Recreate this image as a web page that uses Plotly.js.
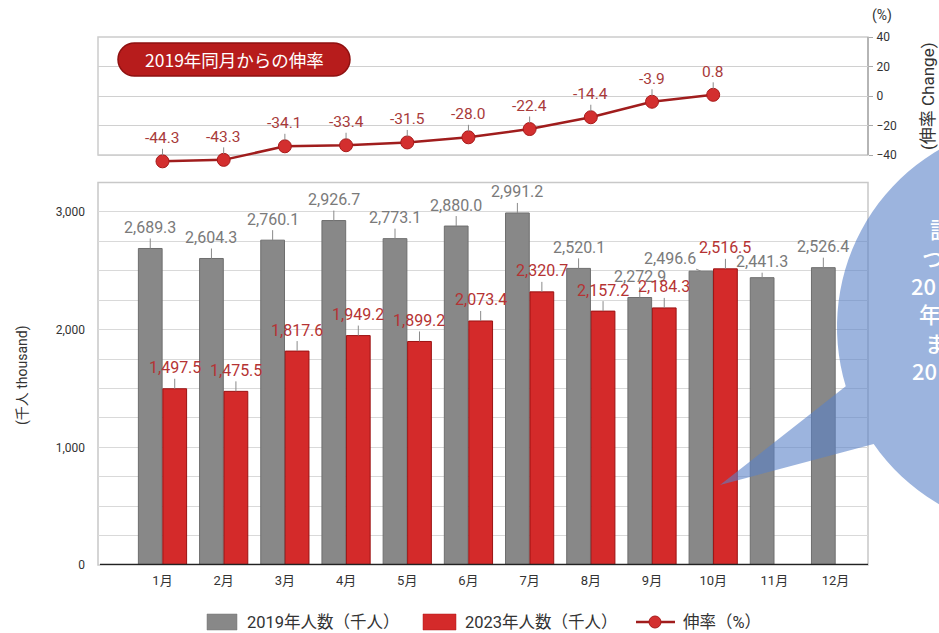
<!DOCTYPE html>
<html>
<head>
<meta charset="utf-8">
<script src="https://cdn.plot.ly/plotly-3.0.1.min.js"></script>
<style>html,body{margin:0;padding:0;background:#fff;}#chart{width:939px;height:633px;}</style>
</head>
<body>
<div id="chart"></div>
<script>
// ---- data ----
const months = ['1月','2月','3月','4月','5月','6月','7月','8月','9月','10月','11月','12月'];
const visitors2019 = [2689.3, 2604.3, 2760.1, 2926.7, 2773.1, 2880.0, 2991.2, 2520.1, 2272.9, 2496.6, 2441.3, 2526.4];
const visitors2023 = [1497.5, 1475.5, 1817.6, 1949.2, 1899.2, 2073.4, 2320.7, 2157.2, 2184.3, 2516.5, null, null];
const changeRate = [-44.3, -43.3, -34.1, -33.4, -31.5, -28.0, -22.4, -14.4, -3.9, 0.8, null, null];
const rateTicks = [-40, -20, 0, 20, 40];
const seriesNames = ['2019年人数（千人）', '2023年人数（千人）', '伸率（%）'];
const badgeText = '2019年同月からの伸率';
const yTitle = '(千人 thousand)';
const y2Title = '(伸率 Change)';
const y2Unit = '(%)';
const bubbleLines = ['訪', 'つ', '20', '年', 'ま', '20'];

// ---- helpers (pixel -> paper) ----
const L = 98, R = 868, T = 37, B = 565;
const px = x => (x - L) / (R - L);
const py = y => (B - y) / (B - T);
const P = (x, y) => px(x).toFixed(5) + ',' + py(y).toFixed(5);
const fmt = v => v.toLocaleString('en-US', {minimumFractionDigits: 1, maximumFractionDigits: 1});
const FONT = 'Roboto, "Noto Sans CJK JP", sans-serif';
const JFONT = '"Noto Sans CJK JP", Roboto, sans-serif';
const GRAY = '#888888', RED = '#d42a2a', LINE = '#a01d1d';

const traces = [
  {type: 'bar', name: seriesNames[0], x: months, y: visitors2019, xaxis: 'x', yaxis: 'y',
   marker: {color: GRAY, line: {color: '#6e6e6e', width: 1}}, showlegend: false, hoverinfo: 'skip'},
  {type: 'bar', name: seriesNames[1], x: months, y: visitors2023, xaxis: 'x', yaxis: 'y',
   marker: {color: RED, line: {color: '#9c1212', width: 1}}, showlegend: false, hoverinfo: 'skip'},
  {type: 'scatter', mode: 'lines+markers', name: seriesNames[2], x: months, y: changeRate, xaxis: 'x2', yaxis: 'y2',
   line: {color: LINE, width: 2.5}, marker: {size: 13, color: '#d32f2f', line: {color: '#a81a1a', width: 1}},
   cliponaxis: false, showlegend: false, hoverinfo: 'skip'}
];

const annotations = [];
const special = {9: [-31, -13], 10: [0, -16]};
visitors2019.forEach((v, i) => {
  const o = special[i] || [0, -21];
  annotations.push({x: i - 0.2, y: v, xref: 'x', yref: 'y', text: fmt(v), showarrow: true, arrowhead: 0,
    arrowwidth: 1, arrowcolor: '#8a8a8a', ax: o[0], ay: o[1], standoff: 0,
    font: {family: FONT, size: 16, color: '#7a7a7a'}});
});
visitors2023.forEach((v, i) => {
  if (v === null) return;
  annotations.push({x: i + 0.2, y: v, xref: 'x', yref: 'y', text: fmt(v), showarrow: true, arrowhead: 0,
    arrowwidth: 1, arrowcolor: '#8a8a8a', ax: 0, ay: -21, standoff: 0,
    font: {family: FONT, size: 16, color: '#b53333'}});
});
changeRate.forEach((v, i) => {
  if (v === null) return;
  annotations.push({x: i, y: v, xref: 'x2', yref: 'y2', text: v.toFixed(1), showarrow: true, arrowhead: 0,
    arrowwidth: 1, arrowcolor: '#8a8a8a', ax: 0, ay: -23, standoff: 6,
    font: {family: FONT, size: 15.5, color: '#a83a3a'}});
});
const paperText = (x, y, text, font, extra) => Object.assign({x: px(x), y: py(y), xref: 'paper', yref: 'paper',
  xanchor: 'center', yanchor: 'middle', text: text, showarrow: false, font: font}, extra || {});
// titles
annotations.push(paperText(22, 375, yTitle, {family: FONT, size: 14, color: '#333'}, {textangle: -90}));
annotations.push(paperText(928, 96, y2Title, {family: FONT, size: 17, color: '#333'}, {textangle: -90}));
annotations.push(paperText(882, 16, y2Unit, {family: FONT, size: 14, color: '#333'}));
annotations.push(paperText(234, 59.5, badgeText, {family: JFONT, size: 17.5, color: '#ffffff'}));
// legend texts
[[245, 0], [463, 1], [681, 2]].forEach(([x, k]) => {
  annotations.push(paperText(x, 622, seriesNames[k], {family: FONT, size: 16.5, color: '#333'}, {xanchor: 'left'}));
});
// bubble text
const bubblePos = [[928, 228], [920, 257], [909, 285], [917, 313], [923, 342], [910, 370]];
bubbleLines.forEach((t, i) => {
  annotations.push(paperText(bubblePos[i][0], bubblePos[i][1], t,
    {family: JFONT, size: 22, color: '#ffffff', weight: 500}, {xanchor: 'left'}));
});

// pill path
function pillPath(x0, x1, y0, y1) {
  const r = (y1 - y0) / 2, m = (y0 + y1) / 2, k = 0.5523 * r;
  return 'M' + P(x0 + r, y0) + ' L' + P(x1 - r, y0) +
    ' C' + P(x1 - r + k, y0) + ' ' + P(x1, m - k) + ' ' + P(x1, m) +
    ' C' + P(x1, m + k) + ' ' + P(x1 - r + k, y1) + ' ' + P(x1 - r, y1) +
    ' L' + P(x0 + r, y1) +
    ' C' + P(x0 + r - k, y1) + ' ' + P(x0, m + k) + ' ' + P(x0, m) +
    ' C' + P(x0, m - k) + ' ' + P(x0 + r - k, y0) + ' ' + P(x0 + r, y0) + ' Z';
}
// speech bubble path
function bubblePath() {
  const cx = 1042, cy = 327, rr = 205, a1 = 163.2, a2 = 145.2;
  const pt = a => P(cx + rr * Math.cos(a * Math.PI / 180), cy + rr * Math.sin(a * Math.PI / 180));
  let d = 'M' + pt(a1) + ' L' + P(720, 485) + ' L' + pt(a2);
  for (let a = a2 - 3; a > a1 - 360; a -= 3) d += ' L' + pt(a);
  return d + ' Z';
}

const upperBottomPx = 155 + 6 * (118 / 80); // -46 on the rate scale
const shapes = [
  {type: 'rect', xref: 'paper', yref: 'paper', x0: 0, x1: 1, y0: py(155), y1: 1, line: {color: '#cccccc', width: 1.5}, layer: 'below'},
  {type: 'line', xref: 'paper', yref: 'paper', x0: 1, x1: 1, y0: py(155), y1: 1, line: {color: '#aaaaaa', width: 1.5}, layer: 'below'},
  {type: 'rect', xref: 'paper', yref: 'paper', x0: 0, x1: 1, y0: 0, y1: py(182.5), line: {color: '#c8c8c8', width: 1.5}, layer: 'below'},
  {type: 'line', xref: 'paper', yref: 'y', x0: px(100), x1: 1, y0: 0, y1: 0, line: {color: '#222222', width: 2.5}, layer: 'above'},
  {type: 'path', xref: 'paper', yref: 'paper', path: pillPath(118, 350, 43, 76), fillcolor: '#b71c1c', line: {color: '#8e1010', width: 1.5}, layer: 'above'},
  // legend swatches
  {type: 'rect', xref: 'paper', yref: 'paper', x0: px(207), x1: px(237), y0: py(630), y1: py(614), fillcolor: GRAY, line: {color: '#777', width: 0.5}},
  {type: 'rect', xref: 'paper', yref: 'paper', x0: px(423), x1: px(456), y0: py(630), y1: py(614), fillcolor: RED, line: {color: '#b01818', width: 0.5}},
  {type: 'line', xref: 'paper', yref: 'paper', x0: px(636), x1: px(675), y0: py(622), y1: py(622), line: {color: LINE, width: 2.5}},
  {type: 'circle', xref: 'paper', yref: 'paper', x0: px(649), x1: px(661), y0: py(628), y1: py(616), fillcolor: '#d32f2f', line: {color: '#a81a1a', width: 1}},
  // speech bubble
  {type: 'path', xref: 'paper', yref: 'paper', path: bubblePath(), fillcolor: 'rgb(90,130,200)', opacity: 0.6, line: {width: 0}, layer: 'above'}
];

const layout = {
  width: 939, height: 633,
  margin: {l: L, r: 939 - R, t: T, b: 633 - B, pad: 0},
  paper_bgcolor: '#ffffff', plot_bgcolor: 'rgba(0,0,0,0)',
  font: {family: FONT, color: '#333'},
  barmode: 'group', bargap: 0.2, bargroupgap: 0.03,
  showlegend: false,
  xaxis: {domain: [0, 1], anchor: 'y', type: 'category', range: [-1.054, 11.53], showgrid: false, zeroline: false,
    showline: false, ticks: '', ticklabelstandoff: 6, tickfont: {family: FONT, size: 13, color: '#333'}, fixedrange: true},
  yaxis: {domain: [0, py(182.5)], anchor: 'x', range: [0, 3250], dtick: 1000, tickformat: ',', showgrid: true,
    gridcolor: '#d9d9d9', gridwidth: 1, zeroline: false, showline: false, ticks: '', ticklabelstandoff: 12,
    minor: {dtick: 250, showgrid: true, gridcolor: '#d9d9d9', gridwidth: 1, ticks: ''},
    tickfont: {family: FONT, size: 12, color: '#333'}},
  xaxis2: {domain: [0, 1], anchor: 'y2', type: 'category', range: [-1.054, 11.53], showgrid: false, zeroline: false,
    showticklabels: false, ticks: '', showline: false},
  yaxis2: {domain: [py(upperBottomPx), 1], anchor: 'x2', side: 'right', range: [-46, 40], tickmode: 'array',
    tickvals: rateTicks, showgrid: true, gridcolor: '#d0d0d0', zeroline: false, showline: false, ticks: 'outside',
    ticklen: 4, tickcolor: '#aaaaaa', ticklabelstandoff: 1, tickfont: {family: FONT, size: 12, color: '#333'}},
  annotations: annotations,
  shapes: shapes
};

Plotly.newPlot('chart', traces, layout, {staticPlot: true, displayModeBar: false});
</script>
</body>
</html>
